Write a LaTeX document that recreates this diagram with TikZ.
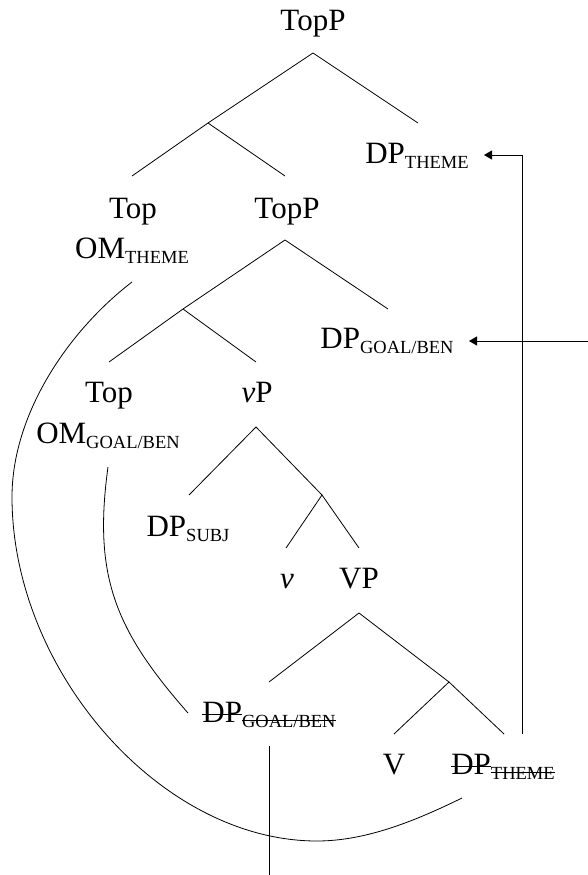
\documentclass[tikz,border=0pt]{standalone}
\usepackage{fontspec}
\setmainfont{Liberation Serif}
\usetikzlibrary{arrows.meta}
\newcommand\smc[1]{\raisebox{-5pt}{\fontsize{18.5}{20}\selectfont #1}}
\newcommand\xstrike[2]{\sbox0{#2}\rlap{\rule[#1]{\wd0}{0.8pt}}\usebox0}
\newcommand\smcs[1]{\raisebox{-5pt}{\fontsize{18.5}{20}\selectfont\xstrike{6pt}{#1}}}
\begin{document}
\begin{tikzpicture}[x=1pt,y=-1pt,line width=0.8pt,
  lbl/.style={inner sep=0pt,anchor=base,font=\fontsize{31}{36}\selectfont},
  arr/.style={-{Triangle[length=8pt,width=9pt]}}]
\useasboundingbox (0,0) rectangle (588,875);
% labels
\node[lbl] (root) at (313,31) {TopP};
\node[lbl] (dpt) at (417,163) {DP\smc{THEME}};
\node[lbl] (top1) at (133,218) {Top};
\node[lbl] (topp2) at (287,218) {TopP};
\node[lbl] (omt) at (132,258) {OM\smc{THEME}};
\node[lbl] (dpgb) at (387,348) {DP\smc{GOAL/BEN}};
\node[lbl] (top2) at (109,402) {Top};
\node[lbl] (vp) at (257,402) {\textit{v}P};
\node[lbl] (omgb) at (108,443) {OM\smc{GOAL/BEN}};
\node[lbl] (dps) at (188,536) {DP\smc{SUBJ}};
\node[lbl] (v) at (287,588) {\textit{v}};
\node[lbl] (VP) at (359,588) {VP};
\node[lbl] (dpgbx) at (269,722) {\xstrike{7pt}{DP}\smcs{GOAL/BEN}};
\node[lbl] (V) at (394,774) {V};
\node[lbl] (dptx) at (503,774) {\xstrike{7pt}{DP}\smcs{THEME}};
% branch points
\coordinate (a1) at (313,53);
\coordinate (b1) at (208,123);
\coordinate (e1) at (418,123);
\coordinate (e2) at (132,176);
\coordinate (a2) at (285,240);
\coordinate (b2) at (183,309);
\coordinate (e3) at (388,309);
\coordinate (e4) at (109,362);
\coordinate (e5) at (256,362);
\coordinate (a3) at (256,427);
\coordinate (e6) at (189,495);
\coordinate (b3) at (322,495);
\coordinate (e7) at (286,548);
\coordinate (e8) at (359,548);
\coordinate (a4) at (359,613);
\coordinate (e9) at (269,682);
\coordinate (b4) at (449,682);
\coordinate (e10) at (394,734);
\coordinate (e11) at (504,734);
\coordinate (e2b) at (285,176);
% tree lines
\draw (b1) -- (a1) -- (e1);
\draw (e2) -- (b1) -- (e2b);
\draw (b2) -- (a2) -- (e3);
\draw (e4) -- (b2) -- (e5);
\draw (e6) -- (a3) -- (b3);
\draw (e7) -- (b3) -- (e8);
\draw (e9) -- (a4) -- (b4);
\draw (e10) -- (b4) -- (e11);
% arrows
\coordinate (m1) at (522,734);
\coordinate (t1) at (484,155);
\draw[arr] (m1) |- (t1);
\coordinate (m2) at (595,341);
\coordinate (t2) at (469,341);
\draw[arr] (m2) -- (t2);
% vertical line below struck DP goal/ben
\coordinate (d1) at (269,746);
\coordinate (d2) at (269,885);
\draw (d1) -- (d2);
% curves
\coordinate (omtS) at (132,282);
\coordinate (dptS) at (462,798);
\draw (omtS) .. controls (67,332) and (12,415) .. (12,497)
      .. controls (12,670) and (160,841) .. (317,841)
      .. controls (367,841) and (417,820) .. (dptS);
\coordinate (omgS) at (108,467);
\coordinate (dgbW) at (188,713);
\draw (omgS) .. controls (93,576) and (115,630) .. (dgbW);
\end{tikzpicture}
\end{document}
